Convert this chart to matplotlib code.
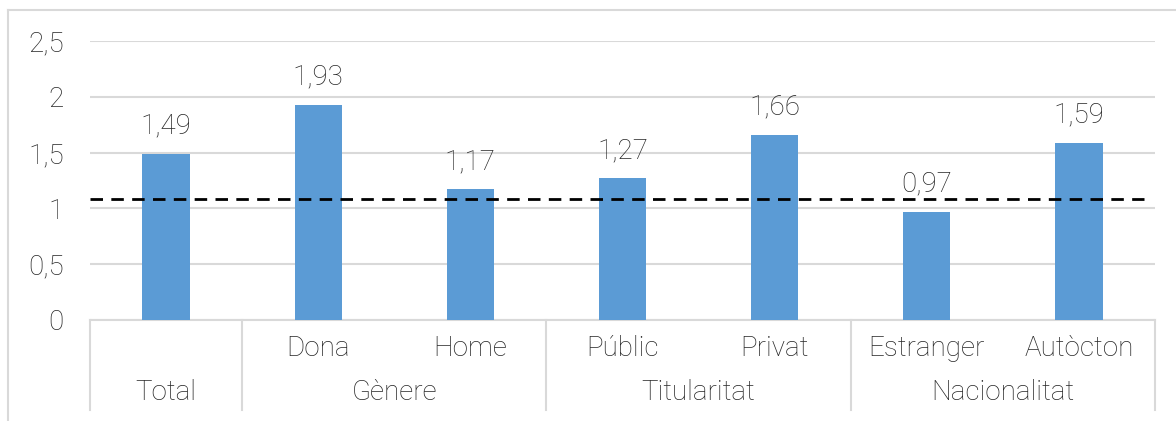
import matplotlib.pyplot as plt
from matplotlib.lines import Line2D
import matplotlib.transforms as mtransforms

plt.rcParams['font.family'] = ['Roboto', 'DejaVu Sans']
plt.rcParams['font.weight'] = 'light'

# data
sub_labels = ["", "Dona", "Home", "Públic", "Privat", "Estranger", "Autòcton"]
values = [1.49, 1.93, 1.17, 1.27, 1.66, 0.97, 1.59]
groups = ["Total", "Gènere", "Titularitat", "Nacionalitat"]
group_spans = [(0, 0), (1, 2), (3, 4), (5, 6)]
reference = 1.08
yticks = [0, 0.5, 1, 1.5, 2, 2.5]

bar_color = "#5b9bd5"
grid_color = "#d9d9d9"
text_color = "#262626"
fs = 20

fig = plt.figure(figsize=(11.76, 4.21), dpi=100)
ax = fig.add_axes([90 / 1176, 1 - 320 / 421, (1155 - 90) / 1176, (320 - 41) / 421])

x = list(range(len(values)))
ax.bar(x, values, width=0.31, color=bar_color, zorder=3)
for xi, v in zip(x, values):
    ax.annotate(f"{v:.2f}".replace(".", ","), (xi, v), xytext=(0, 10),
                textcoords="offset points", ha="center", va="bottom",
                fontsize=fs, color=text_color)

ax.axhline(reference, xmin=0, xmax=0.99, color="black", lw=2.0,
           dashes=(4.5, 3), zorder=4)

ax.set_xlim(-0.5, len(values) - 0.5)
ax.set_ylim(0, 2.5)
ax.set_yticks(yticks)
ax.set_yticklabels([f"{t:g}".replace(".", ",") for t in yticks],
                   fontsize=fs, color=text_color)
ax.yaxis.grid(True, color=grid_color, lw=1.5, zorder=0)
ax.set_axisbelow(True)
ax.tick_params(axis="y", length=0, pad=19)
ax.tick_params(axis="x", length=0)
ax.set_xticks([])
for s in ["top", "right", "left"]:
    ax.spines[s].set_visible(False)
ax.spines["bottom"].set_color(grid_color)
ax.spines["bottom"].set_linewidth(1.5)

# multi-level category axis
trans = mtransforms.blended_transform_factory(ax.transData, ax.transAxes)
box_bottom = -(410 - 320) / 279
seps = [-0.5, 0.5, 2.5, 4.5, 6.5]
for sx in seps:
    ax.add_line(Line2D([sx, sx], [0, box_bottom], transform=trans,
                       color=grid_color, lw=1.5, clip_on=False))
for xi, lab in zip(x, sub_labels):
    if lab:
        ax.text(xi, -(348 - 320) / 279, lab, transform=trans, ha="center",
                va="center", fontsize=fs, color=text_color)
for g, (a, b) in zip(groups, group_spans):
    ax.text((a + b) / 2, -(393 - 320) / 279, g, transform=trans, ha="center",
            va="center", fontsize=fs, color=text_color)

# outer frame
fig.add_artist(Line2D([8 / 1176, 1.0], [1 - 10 / 421, 1 - 10 / 421],
                      transform=fig.transFigure, color=grid_color, lw=1.5))
fig.add_artist(Line2D([8 / 1176, 8 / 1176], [0, 1 - 10 / 421],
                      transform=fig.transFigure, color=grid_color, lw=1.5))

fig.savefig("out.png", dpi=100)
